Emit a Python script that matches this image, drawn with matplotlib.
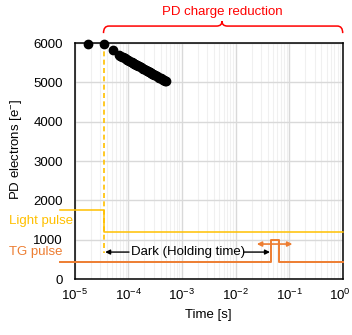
import numpy as np
import matplotlib
matplotlib.use("Agg")
import matplotlib.pyplot as plt
import matplotlib.transforms as mtransforms
from matplotlib.path import Path
from matplotlib.patches import PathPatch

plt.rcParams['font.family'] = ['Liberation Sans', 'DejaVu Sans']
plt.rcParams['mathtext.fontset'] = 'custom'
plt.rcParams['mathtext.rm'] = 'Liberation Sans'
plt.rcParams['mathtext.it'] = 'Liberation Sans:italic'
plt.rcParams['mathtext.default'] = 'regular'

# PD electrons vs time
t_pd = [1.8e-5, 3.5e-5, 5.2e-5, 6.8e-5, 7e-5, 7.5e-5, 8e-5, 8.5e-5, 9e-5, 9.5e-5,
        1.0e-4, 1.05e-4, 1.1e-4, 1.15e-4, 1.2e-4, 1.25e-4, 1.3e-4, 1.35e-4, 1.4e-4,
        1.45e-4, 1.5e-4, 1.6e-4, 1.7e-4, 1.8e-4, 1.9e-4, 2.0e-4, 2.1e-4, 2.2e-4,
        2.3e-4, 2.4e-4, 2.5e-4, 2.6e-4, 2.7e-4, 2.8e-4, 2.9e-4, 3.0e-4, 3.2e-4,
        3.4e-4, 3.6e-4, 3.8e-4, 4.0e-4, 4.2e-4, 4.4e-4, 4.6e-4, 4.8e-4, 5.0e-4]
e_pd = [5980, 5975, 5820, 5690, 5679, 5656, 5635, 5615, 5596, 5578,
        5561, 5544, 5529, 5514, 5500, 5487, 5474, 5461, 5449,
        5438, 5426, 5405, 5385, 5366, 5348, 5331, 5315, 5299,
        5285, 5271, 5257, 5244, 5232, 5219, 5208, 5197, 5175,
        5155, 5136, 5118, 5101, 5085, 5070, 5055, 5041, 5027]

x_ticks = [1e-5, 1e-4, 1e-3, 1e-2, 1e-1, 1]
x_ticklabels = ['10$^{-5}$', '10$^{-4}$', '10$^{-3}$', '10$^{-2}$', '10$^{-1}$', '10$^{0}$']

# timing diagram (drawn in the same data space)
t_dark = 3.5e-5
dark_bottom = 660
light_t = [5.3e-6, 3.5e-5, 3.5e-5, 1.0]
light_v = [1750, 1750, 1200, 1200]
tg_t = [5.3e-6, 0.045, 0.045, 0.064, 0.064, 1.0]
tg_v = [440, 440, 985, 985, 440, 440]
shift_t = [0.025, 0.115]
shift_v = 890
dark_arrow_v = 686
dark_text_t = 1.12e-4

yellow = '#FFC000'
orange = '#ED7D31'
red = '#FF0000'

fig = plt.figure(figsize=(3.52, 3.35), dpi=100)
ax = fig.add_axes([0.2122, 0.167, 0.7614, 0.7045])

ax.set_xscale('log')
ax.set_xlim(1e-5, 1)
ax.set_ylim(0, 6000)
ax.set_yticks([0, 1000, 2000, 3000, 4000, 5000, 6000])
ax.set_xticks(x_ticks, x_ticklabels)
ax.xaxis.set_minor_locator(matplotlib.ticker.LogLocator(base=10, subs=np.arange(2, 10), numticks=20))
ax.xaxis.set_minor_formatter(matplotlib.ticker.NullFormatter())
ax.grid(which='major', color='#D9D9D9', linewidth=1.0, zorder=0)
ax.grid(which='minor', axis='x', color='#F0F0F0', linewidth=0.8, zorder=0)
ax.set_axisbelow(True)
ax.tick_params(which='both', length=0, labelsize=9.5)
ax.tick_params(axis='y', pad=8.5)
ax.tick_params(axis='x', pad=6)
for s in ax.spines.values():
    s.set_linewidth(1.1)
    s.set_color('black')

# nudge the last decade label so it stays inside the figure
lab = ax.get_xticklabels()[-1]
lab.set_transform(lab.get_transform() + mtransforms.ScaledTranslation(-2 / 72, 0, fig.dpi_scale_trans))

ax.plot(light_t, light_v, color=yellow, lw=1.1, clip_on=False, zorder=3)
ax.plot(tg_t, tg_v, color=orange, lw=1.4, clip_on=False, zorder=3)
ax.plot([t_dark, t_dark], [6000, dark_bottom], color=yellow, lw=1.2, ls=(0, (3, 2)), zorder=3)
ax.plot(t_pd, e_pd, 'o', color='black', ms=6, clip_on=False, zorder=5)

# Dark (Holding time)
ax.text(dark_text_t, dark_arrow_v, 'Dark (Holding time)', fontsize=9.5, va='center', ha='left')
ax.annotate('', xy=(3.7e-5, dark_arrow_v), xytext=(1.03e-4, dark_arrow_v),
            arrowprops=dict(arrowstyle='-|>', color='black', lw=1, mutation_scale=7, shrinkA=0, shrinkB=0))
ax.annotate('', xy=(0.044, dark_arrow_v), xytext=(0.0143, dark_arrow_v),
            arrowprops=dict(arrowstyle='-|>', color='black', lw=1, mutation_scale=7, shrinkA=0, shrinkB=0))
ax.annotate('', xy=(shift_t[0], shift_v), xytext=(shift_t[1], shift_v),
            arrowprops=dict(arrowstyle='<|-|>', color=orange, lw=1.2, mutation_scale=7, shrinkA=0, shrinkB=0))

ax.text(-0.245, 1482, 'Light pulse', color=yellow, fontsize=9.5, va='center', ha='left',
        transform=ax.get_yaxis_transform())
ax.text(-0.245, 694, 'TG pulse', color=orange, fontsize=9.5, va='center', ha='left',
        transform=ax.get_yaxis_transform())

ax.set_xlabel('Time [s]', fontsize=9.5)
ax.set_ylabel('PD electrons [e$^{-}$]', fontsize=9.5)
ax.xaxis.set_label_coords(0.5, -0.127)
ax.yaxis.set_label_coords(-0.19, 0.55)

# curly bracket on top
x0, xm, x1 = 0.1075, 0.5496, 1.0
ye, yh, yp = 1.042, 1.072, 1.093
r = 0.02
verts = [(x0, ye), (x0, yh), (x0 + r, yh), (xm - r, yh), (xm, yh), (xm, yp),
         (xm, yh), (xm + r, yh), (x1 - r, yh), (x1, yh), (x1, ye)]
codes = [Path.MOVETO, Path.CURVE3, Path.CURVE3, Path.LINETO, Path.CURVE3, Path.CURVE3,
         Path.CURVE3, Path.CURVE3, Path.LINETO, Path.CURVE3, Path.CURVE3]
ax.add_patch(PathPatch(Path(verts, codes), fill=False, edgecolor=red, lw=1.1,
                       transform=ax.transAxes, clip_on=False))
ax.text(0.55, 1.131, 'PD charge reduction', color=red, fontsize=9.5, ha='center', va='center',
        transform=ax.transAxes)

fig.savefig('out.png', dpi=100)
